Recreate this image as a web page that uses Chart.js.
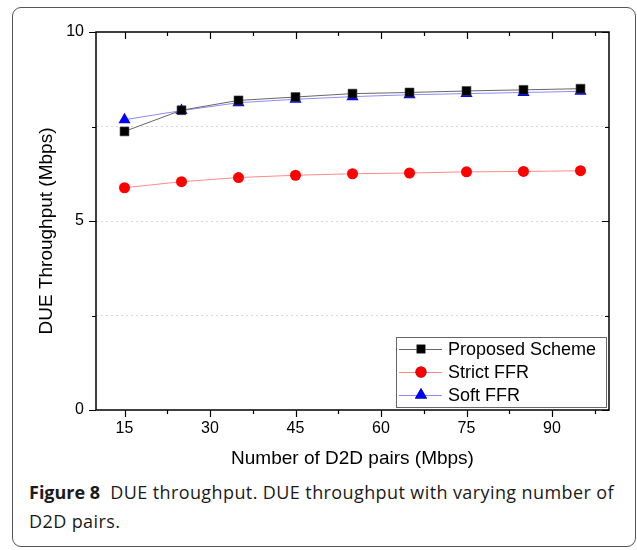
<!DOCTYPE html>
<html>
<head>
<meta charset="utf-8">
<script src="https://cdn.jsdelivr.net/npm/chart.js@4.4.1/dist/chart.umd.min.js"></script>
<style>
  body { margin: 0; background: #fff; }
  #frame {
    position: absolute; left: 12px; top: 7px; width: 622px; height: 538px;
    border: 1px solid #555; border-radius: 9px;
  }
  #wrap { position: absolute; left: 0; top: 0; width: 637px; height: 475px; }
  #caption {
    position: absolute; left: 29px; top: 478px; width: 594px;
    font-family: "Open Sans", sans-serif; font-size: 18px; letter-spacing: 0.4px;
    line-height: 29px; color: #1a1a1a;
  }
  #caption b { font-weight: 700; letter-spacing: 0; margin-right: 5px; }
</style>
</head>
<body>
<div id="frame"></div>
<div id="wrap"><canvas id="chart" width="637" height="475"></canvas></div>
<div id="caption"><b>Figure 8</b> DUE throughput. DUE throughput with varying number of D2D pairs.</div>
<script>
// valeurs
const d2dPairs = [15, 25, 35, 45, 55, 65, 75, 85, 95];
const proposedScheme = [7.37, 7.93, 8.19, 8.28, 8.37, 8.40, 8.44, 8.47, 8.50];
const strictFFR = [5.88, 6.04, 6.15, 6.21, 6.25, 6.27, 6.30, 6.31, 6.33];
const softFFR = [7.68, 7.92, 8.13, 8.22, 8.29, 8.34, 8.37, 8.40, 8.43];
const xTickValues = [15, 22.5, 30, 37.5, 45, 52.5, 60, 67.5, 75, 82.5, 90, 97.5];
const yTickValues = [0, 2.5, 5, 7.5, 10];
const seriesNames = ['Proposed Scheme', 'Strict FFR', 'Soft FFR'];
const yTitle = 'DUE Throughput (Mbps)';

const fontFamily = "'Liberation Sans', Arial, sans-serif";

function toPoints(values) {
  return values.map((v, i) => ({ x: d2dPairs[i], y: v }));
}

// cadre, graduations (majeures/mineures), titre Y et légende encadrée
const framePlugin = {
  id: 'frameTicks',
  afterDraw(chart) {
    const ctx = chart.ctx;
    const a = chart.chartArea;
    const xs = chart.scales.x, ys = chart.scales.y;
    ctx.save();
    ctx.strokeStyle = '#000';
    ctx.lineWidth = 1.5;
    ctx.strokeRect(a.left, a.top, a.right - a.left, a.bottom - a.top);
    ctx.lineWidth = 1.2;
    ctx.beginPath();
    xTickValues.forEach(v => {
      const px = Math.round(xs.getPixelForValue(v)) + 0.5;
      const len = v % 15 === 0 ? 7 : 4;
      ctx.moveTo(px, a.bottom); ctx.lineTo(px, a.bottom + len);
      ctx.moveTo(px, a.top); ctx.lineTo(px, a.top + len);
    });
    yTickValues.forEach(v => {
      const py = Math.round(ys.getPixelForValue(v)) + 0.5;
      const len = v % 5 === 0 ? 7 : 4;
      ctx.moveTo(a.left, py); ctx.lineTo(a.left - len, py);
      ctx.moveTo(a.right, py); ctx.lineTo(a.right - len, py);
    });
    ctx.stroke();

    // titre de l'axe Y (un peu sous le centre, comme l'original)
    ctx.save();
    ctx.translate(47, (a.top + a.bottom) / 2 + 10);
    ctx.rotate(-Math.PI / 2);
    ctx.font = '19px ' + fontFamily;
    ctx.fillStyle = '#000';
    ctx.textAlign = 'center';
    ctx.textBaseline = 'middle';
    ctx.fillText(yTitle, 0, 0);
    ctx.restore();

    // légende
    const bw = 210, bh = 70;
    const bx = a.right - 3 - bw, by = a.bottom - 3 - bh;
    ctx.fillStyle = '#fff';
    ctx.fillRect(bx, by, bw, bh);
    ctx.strokeStyle = '#666';
    ctx.lineWidth = 1;
    ctx.strokeRect(bx + 0.5, by + 0.5, bw, bh);
    ctx.font = '18px ' + fontFamily;
    ctx.textBaseline = 'middle';
    chart.data.datasets.forEach((ds, i) => {
      const cy = by + 12 + i * 23;
      ctx.strokeStyle = ds.borderColor;
      ctx.lineWidth = 1;
      ctx.beginPath();
      ctx.moveTo(bx + 3, cy + 0.5); ctx.lineTo(bx + 46, cy + 0.5);
      ctx.stroke();
      Chart.helpers.drawPoint(ctx, {
        pointStyle: ds.pointStyle, radius: ds.pointRadius, borderWidth: 0
      }, bx + 25, cy);
      ctx.fillStyle = ds.pointBackgroundColor;
      ctx.fill();
      ctx.fillStyle = '#000';
      ctx.fillText(ds.label, bx + 52, cy + 1);
    });
    ctx.restore();
  }
};

new Chart(document.getElementById('chart'), {
  type: 'line',
  data: {
    datasets: [
      {
        label: seriesNames[0], data: toPoints(proposedScheme),
        borderColor: '#666', borderWidth: 1,
        pointStyle: 'rect', pointRadius: 6.3, pointBackgroundColor: '#000', pointBorderColor: '#444', pointBorderWidth: 0.6
      },
      {
        label: seriesNames[1], data: toPoints(strictFFR),
        borderColor: '#ff8a8a', borderWidth: 1,
        pointStyle: 'circle', pointRadius: 5.5, pointBackgroundColor: '#ff0000', pointBorderColor: '#ff0000', pointBorderWidth: 0
      },
      {
        label: seriesNames[2], data: toPoints(softFFR),
        borderColor: '#8c8cff', borderWidth: 1,
        pointStyle: 'triangle', pointRadius: 7, pointBackgroundColor: '#0000ff', pointBorderColor: '#0000ff', pointBorderWidth: 0
      }
    ]
  },
  options: {
    responsive: false,
    animation: false,
    layout: { padding: { top: 32, right: 28, left: 0, bottom: 0 } },
    plugins: { legend: { display: false }, tooltip: { enabled: false } },
    scales: {
      x: {
        type: 'linear', min: 10, max: 100,
        afterBuildTicks: scale => { scale.ticks = xTickValues.map(v => ({ value: v })); },
        afterFit: scale => { scale.height = 65; },
        grid: { display: false, drawTicks: false },
        border: { display: false },
        ticks: {
          padding: 9, color: '#000', font: { size: 16, family: fontFamily },
          callback: v => (v % 15 === 0 ? v : '')
        },
        title: {
          display: true, text: 'Number of D2D pairs (Mbps)', color: '#000',
          font: { size: 19, family: fontFamily }, padding: { bottom: 5, top: 0 }
        }
      },
      y: {
        min: 0, max: 10,
        afterBuildTicks: scale => { scale.ticks = yTickValues.map(v => ({ value: v })); },
        afterFit: scale => { scale.width = 96; },
        grid: {
          drawTicks: false, lineWidth: 1,
          color: c => (c.tick && (c.tick.value === 0 || c.tick.value === 10) ? 'rgba(0,0,0,0)' : '#d8d8d8')
        },
        border: { display: false, dash: [2, 3] },
        ticks: {
          padding: 12, color: '#000', font: { size: 16, family: fontFamily },
          callback: v => (v % 5 === 0 ? v : '')
        },
        title: { display: false }
      }
    }
  },
  plugins: [framePlugin]
});
</script>
</body>
</html>
